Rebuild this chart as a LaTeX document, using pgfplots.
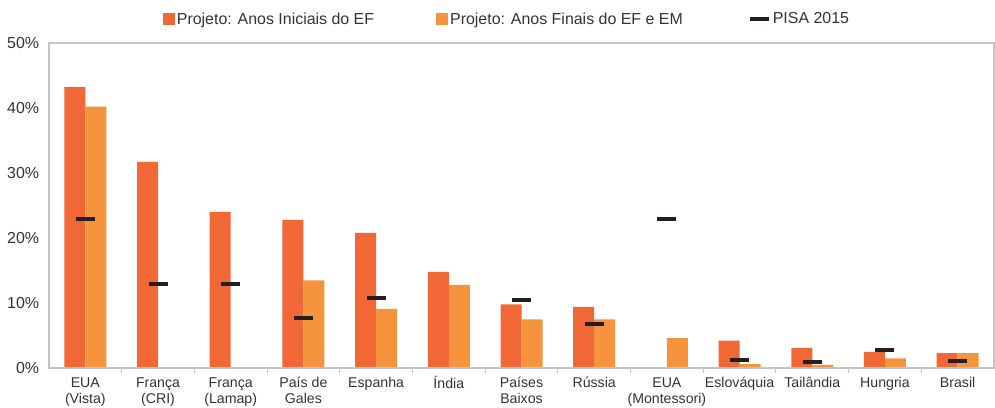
\documentclass[border=0pt]{standalone}
\usepackage{pgfplots}
\pgfplotsset{compat=1.18}
\usepackage{fontspec}
\setmainfont{Liberation Sans}
\definecolor{cRed}{HTML}{F26736}
\definecolor{cOra}{HTML}{F6943D}
\definecolor{cBlk}{HTML}{231F20}
\definecolor{cAx}{HTML}{C4C4C4}
\begin{document}
\begin{tikzpicture}
\useasboundingbox (-49bp,-40bp) rectangle (946bp,368bp);
\begin{axis}[
  at={(0,0)}, anchor=south west,
  scale only axis, width=945bp, height=325bp,
  xmin=-0.5, xmax=12.5, ymin=0, ymax=50,
  font=\fontsize{14.2}{16}\selectfont,
  axis line style={cAx, line width=1.2bp},
  axis on top,
  xtick={0,...,12},
  xticklabels={{\strut EUA\\(Vista)},{\strut França\\(CRI)},{\strut França\\(Lamap)},{\strut País de\\Gales},{\strut Espanha},{\strut Índia},{\strut Países\\Baixos},{\strut Rússia},{\strut EUA\\(Montessori)},{\strut Eslováquia},{\strut Tailândia},{\strut Hungria},{\strut Brasil}},
  xticklabel style={align=center, anchor=north, inner sep=0pt, yshift=-8bp, text=black!80,
    font=\fontsize{14.2}{16}\selectfont},
  major tick length=0pt,
  major x tick style={draw=none},
  minor xtick={0.5,1.5,...,11.5},
  minor tick length=5bp,
  minor x tick style={cAx, line width=1bp},
  xtick pos=left,
  tick align=outside,
  ytick={0,10,20,30,40,50},
  yticklabels={0\%,10\%,20\%,30\%,40\%,50\%},
  major y tick style={draw=none},
  yticklabel style={inner sep=0pt, xshift=-9.7bp, text=black!80, font=\fontsize{16}{18}\selectfont},
  legend columns=3,
  legend style={at={(0.1203,1)}, anchor=west, yshift=24bp, draw=none, fill=none, inner sep=0pt,
    font=\fontsize{16}{18}\selectfont, text=black!80,
    /tikz/column 2/.style={column sep=60bp},
    /tikz/column 4/.style={column sep=63bp}},
  legend cell align=left,
]
\addplot[ybar, bar width=21bp, bar shift=-10.5bp, fill=cRed, draw=none,
  legend image code/.code={\fill[cRed] (0bp,-6bp) rectangle (12bp,6bp);}]
  coordinates {(0,43.2) (1,31.7) (2,24.0) (3,22.8) (4,20.8) (5,14.8) (6,9.8) (7,9.4) (9,4.2) (10,3.1) (11,2.5) (12,2.3)};
\addlegendentry{Projeto: Anos Iniciais do EF}
\addplot[ybar, bar width=21bp, bar shift=10.5bp, fill=cOra, draw=none,
  legend image code/.code={\fill[cOra] (0bp,-6bp) rectangle (12bp,6bp);}]
  coordinates {(0,40.2) (3,13.5) (4,9.1) (5,12.8) (6,7.5) (7,7.5) (8,4.6) (9,0.6) (10,0.5) (11,1.5) (12,2.3)};
\addlegendentry{Projeto: Anos Finais do EF e EM}
\addplot[only marks, mark=-, mark size=9.5bp, mark options={line width=4bp, draw=cBlk},
  legend image code/.code={\draw[cBlk, line width=4bp] (0bp,0bp) -- (19bp,0bp);}]
  coordinates {(0,22.9) (1,12.9) (2,12.9) (3,7.7) (4,10.8) (6,10.5) (7,6.8) (8,22.9) (9,1.2) (10,0.9) (11,2.8) (12,1.1)};
\addlegendentry{PISA 2015}
\end{axis}
\end{tikzpicture}
\end{document}
